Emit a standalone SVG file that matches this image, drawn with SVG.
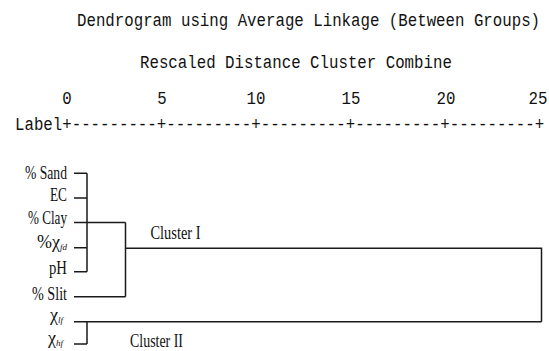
<svg xmlns="http://www.w3.org/2000/svg" width="549" height="351" viewBox="0 0 549 351">
<style>
.mono{font-family:"Liberation Mono","DejaVu Sans Mono",monospace;font-size:15.75px;fill:#111}
.num{text-anchor:middle}
.lbl{font-family:"Liberation Serif","Times New Roman",serif;font-size:18px;fill:#111;text-anchor:end}
.clu{font-family:"Liberation Serif","Times New Roman",serif;font-size:18px;fill:#111}
.sub{font-size:9px;font-style:italic}
.ln{stroke:#1a1a1a;stroke-width:1.5;fill:none}
</style>
<rect width="549" height="351" fill="#fff"/>
<g id="header">
<g transform="translate(77 26) scale(1 1.15)"><text class="mono" x="0" y="0">Dendrogram using Average Linkage (Between Groups)</text></g>
<g transform="translate(140 68) scale(1 1.15)"><text class="mono" x="0" y="0">Rescaled Distance Cluster Combine</text></g>
</g>
<g id="scale">
<g transform="translate(0 104) scale(1 1.15)">
<text class="mono num" x="67" y="0">0</text>
<text class="mono num" x="162" y="0">5</text>
<text class="mono num" x="256" y="0">10</text>
<text class="mono num" x="351" y="0">15</text>
<text class="mono num" x="446" y="0">20</text>
<text class="mono num" x="538" y="0">25</text>
</g>
<g transform="translate(15 130) scale(1 1.15)"><text class="mono" x="0" y="0">Label+---------+---------+---------+---------+---------+</text></g>
</g>
<g id="connectors">
<path class="ln" d="M74 173.3H87M74 198H87M74 222.5H125.5M74 247.7H87M74 271.7H87M87 173.3V271.7"/>
<path class="ln" d="M74 296.8H125.5M125.5 222.5V296.8M125.5 248.2H541.5V321.8M74 321.8H541.5"/>
<path class="ln" d="M74 344H87M87 321.8V344"/>
</g>
<g id="n-sand"><text class="lbl" x="67" y="178.5" textLength="42" lengthAdjust="spacingAndGlyphs">% Sand</text></g>
<g id="n-ec"><text class="lbl" x="67" y="200.5" textLength="17" lengthAdjust="spacingAndGlyphs">EC</text></g>
<g id="n-clay"><text class="lbl" x="67" y="223.5" textLength="39" lengthAdjust="spacingAndGlyphs">% Clay</text></g>
<g id="n-xfd"><text class="lbl" x="67" y="248">%χ<tspan class="sub" dy="2">fd</tspan></text></g>
<g id="n-ph"><text class="lbl" x="67" y="273.5" textLength="18" lengthAdjust="spacingAndGlyphs">pH</text></g>
<g id="n-slit"><text class="lbl" x="67" y="299.5" textLength="35" lengthAdjust="spacingAndGlyphs">% Slit</text></g>
<g id="n-xlf"><text class="lbl" x="63" y="321">χ<tspan class="sub" dy="2">lf</tspan></text></g>
<g id="n-xhf"><text class="lbl" x="63" y="344">χ<tspan class="sub" dy="2">hf</tspan></text></g>
<g id="cluster-labels">
<text class="clu" x="150.5" y="239" textLength="50" lengthAdjust="spacingAndGlyphs">Cluster I</text>
<text class="clu" x="130" y="346.5" textLength="53" lengthAdjust="spacingAndGlyphs">Cluster II</text>
</g>
</svg>
